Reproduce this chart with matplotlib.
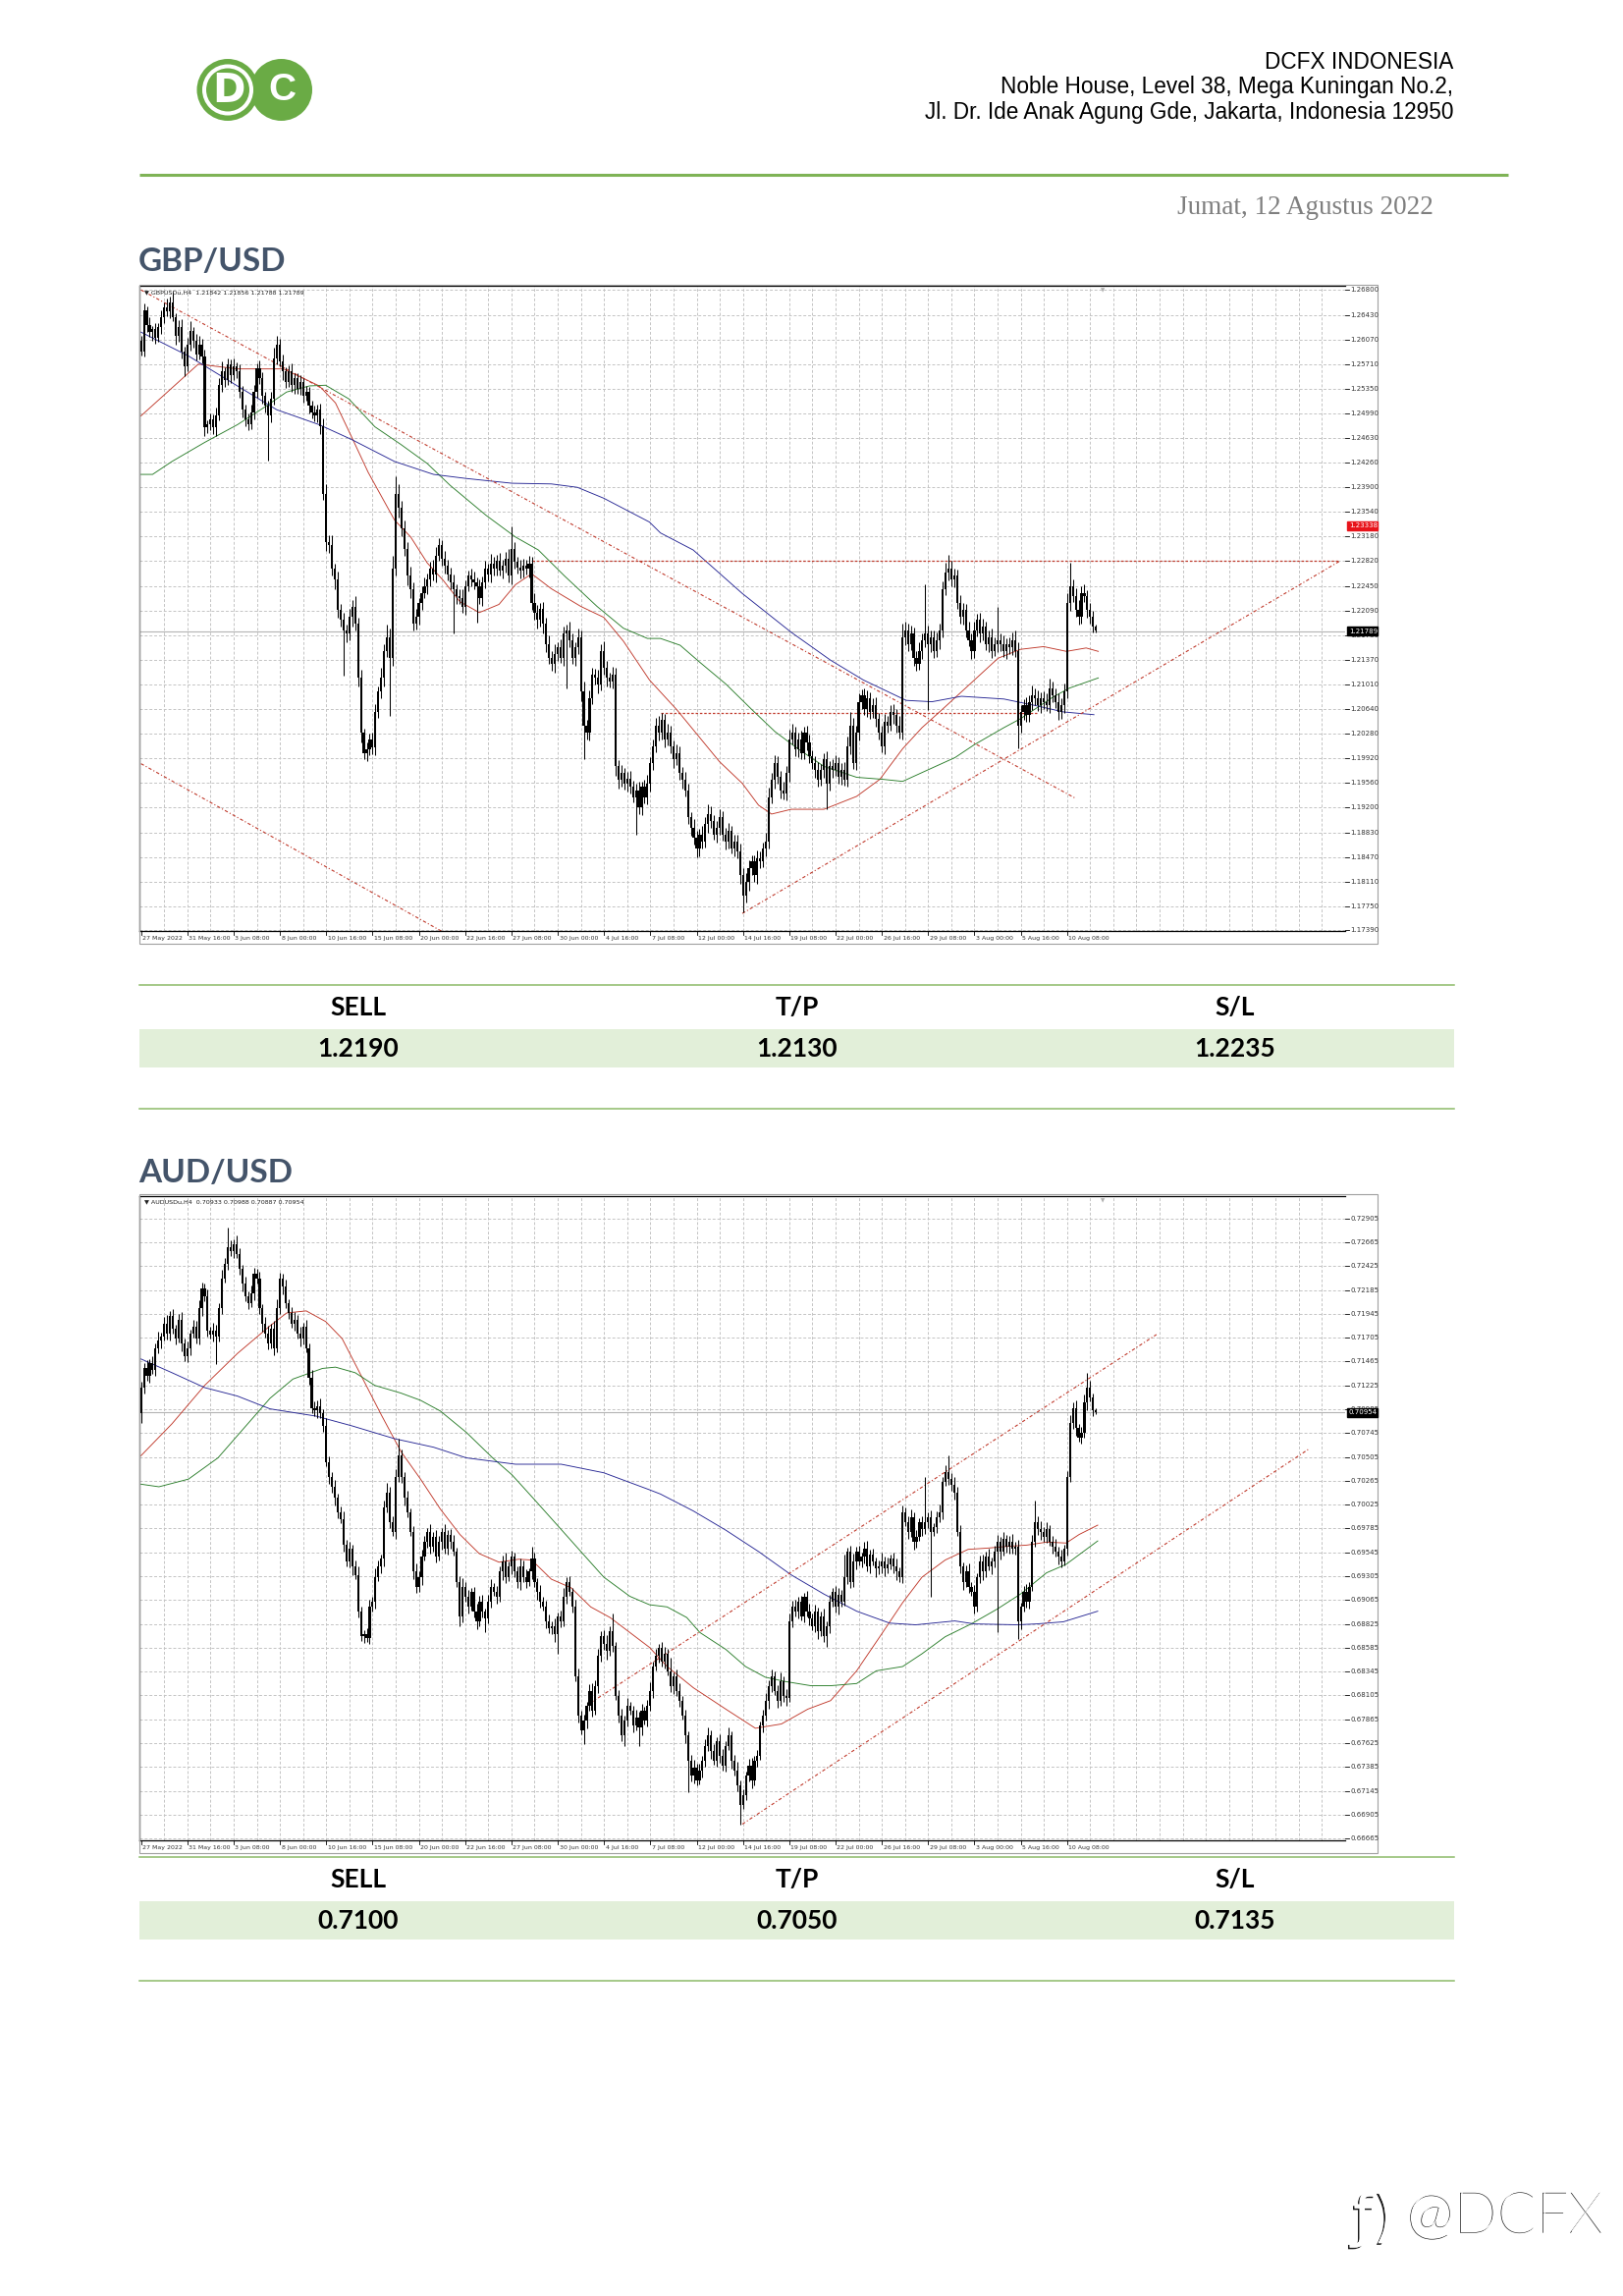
import matplotlib
matplotlib.use("Agg")
import matplotlib.pyplot as plt
import matplotlib.patheffects as pe
from matplotlib.patches import Circle, Rectangle
import numpy as np

W, H = 1653, 2338

# ---------------- data ----------------
date_labels = ["27 May 2022", "31 May 16:00", "3 Jun 08:00", "8 Jun 00:00", "10 Jun 16:00",
               "15 Jun 08:00", "20 Jun 00:00", "22 Jun 16:00", "27 Jun 08:00", "30 Jun 00:00",
               "4 Jul 16:00", "7 Jul 08:00", "12 Jul 00:00", "14 Jul 16:00", "19 Jul 08:00",
               "22 Jul 00:00", "26 Jul 16:00", "29 Jul 08:00", "3 Aug 00:00", "5 Aug 16:00",
               "10 Aug 08:00"]

gbp_ticks = [1.26800, 1.26430, 1.26070, 1.25710, 1.25350, 1.24990, 1.24630, 1.24260, 1.23900,
             1.23540, 1.23180, 1.22820, 1.22450, 1.22090, 1.21730, 1.21370, 1.21010, 1.20640,
             1.20280, 1.19920, 1.19560, 1.19200, 1.18830, 1.18470, 1.18110, 1.17750, 1.17390]
aud_ticks = [0.72905, 0.72665, 0.72425, 0.72185, 0.71945, 0.71705, 0.71465, 0.71225, 0.70985,
             0.70745, 0.70505, 0.70265, 0.70025, 0.69785, 0.69545, 0.69305, 0.69065, 0.68825,
             0.68585, 0.68345, 0.68105, 0.67865, 0.67625, 0.67385, 0.67145, 0.66905, 0.66665]

# GBPUSD H4 closes, one per bar (27 May -> 12 Aug)
gbp_open0 = 1.2605
gbp_close = [
    1.2590, 1.2650, 1.2628, 1.2618, 1.2622, 1.2610, 1.2625, 1.2640, 1.2655, 1.2648, 1.2662, 1.2640,
    1.2612, 1.2625, 1.2590, 1.2568, 1.2600, 1.2620, 1.2605, 1.2585, 1.2600, 1.2582,
    1.2478, 1.2482, 1.2490, 1.2478, 1.2495,
    1.2540, 1.2560, 1.2548, 1.2570, 1.2555, 1.2568, 1.2560,
    1.2530, 1.2505, 1.2490, 1.2482, 1.2500,
    1.2530, 1.2565, 1.2550, 1.2525, 1.2510, 1.2495, 1.2520,
    1.2580, 1.2600, 1.2575, 1.2560,
    1.2545, 1.2560, 1.2540, 1.2550, 1.2535, 1.2545, 1.2525, 1.2530, 1.2510, 1.2500, 1.2495, 1.2505,
    1.2480, 1.2380, 1.2310,
    1.2305, 1.2270, 1.2255, 1.2210, 1.2195, 1.2180, 1.2175, 1.2200,
    1.2215, 1.2190,
    1.2110, 1.2030, 1.2000, 1.2005, 1.2020, 1.2008,
    1.2060, 1.2090, 1.2110, 1.2150, 1.2170, 1.2140,
    1.2270, 1.2380,
    1.2360, 1.2330, 1.2300, 1.2260, 1.2240,
    1.2190, 1.2200,
    1.2220, 1.2235, 1.2245, 1.2255, 1.2270, 1.2262, 1.2290, 1.2305, 1.2285,
    1.2275, 1.2262, 1.2250, 1.2240, 1.2230, 1.2228, 1.2215,
    1.2245, 1.2260, 1.2255, 1.2250, 1.2245, 1.2228, 1.2250, 1.2270, 1.2262, 1.2278, 1.2270, 1.2282,
    1.2268, 1.2275, 1.2285, 1.2260, 1.2300,
    1.2280, 1.2272, 1.2268, 1.2275, 1.2270, 1.2278,
    1.2220,
    1.2205, 1.2195, 1.2212, 1.2190, 1.2160, 1.2140,
    1.2130, 1.2145, 1.2155, 1.2140, 1.2175, 1.2180, 1.2165, 1.2140, 1.2155, 1.2170,
    1.2090, 1.2040, 1.2030,
    1.2080, 1.2115, 1.2110, 1.2100, 1.2150, 1.2125, 1.2110, 1.2105, 1.2115,
    1.1980,
    1.1960, 1.1970, 1.1955, 1.1962, 1.1950, 1.1935, 1.1945, 1.1920,
    1.1950, 1.1935, 1.1955,
    1.1985, 1.2010, 1.2040, 1.2030, 1.2048, 1.2020,
    1.2030, 1.2010, 1.1990, 1.2000, 1.1970, 1.1960, 1.1945,
    1.1905, 1.1890, 1.1875, 1.1860, 1.1880, 1.1870, 1.1895,
    1.1910, 1.1900, 1.1880, 1.1890, 1.1905, 1.1880, 1.1870, 1.1885, 1.1860, 1.1870, 1.1855,
    1.1820, 1.1790, 1.1810,
    1.1830, 1.1840, 1.1820, 1.1845, 1.1840, 1.1860, 1.1870,
    1.1935, 1.1960, 1.1985,
    1.1965, 1.1945, 1.1940, 1.1970,
    1.2020, 1.2030, 1.2005, 1.2020, 1.2000, 1.2030, 1.2015, 1.1995,
    1.1985, 1.1975, 1.1960, 1.1975, 1.1990, 1.1955, 1.1980, 1.1975, 1.1985, 1.1965, 1.1975, 1.1960,
    1.2010, 1.2040, 1.1985, 1.2030,
    1.2075, 1.2085, 1.2065, 1.2080, 1.2060, 1.2070, 1.2050,
    1.2030, 1.2010, 1.2045, 1.2040, 1.2060, 1.2055, 1.2040, 1.2030,
    1.2170,
    1.2180, 1.2160, 1.2175, 1.2140, 1.2130, 1.2150, 1.2165,
    1.2175, 1.2160, 1.2170, 1.2150, 1.2165, 1.2180,
    1.2240, 1.2265, 1.2270, 1.2255, 1.2260,
    1.2220, 1.2200, 1.2210, 1.2180, 1.2165, 1.2150,
    1.2180, 1.2195, 1.2175, 1.2185, 1.2160, 1.2170, 1.2150, 1.2160,
    1.2165, 1.2160, 1.2150, 1.2160, 1.2155, 1.2165, 1.2150,
    1.2040,
    1.2060, 1.2070, 1.2055, 1.2075, 1.2085, 1.2080, 1.2070, 1.2080, 1.2075, 1.2070, 1.2095, 1.2085,
    1.2075, 1.2060, 1.2070, 1.2090,
    1.2220,
    1.2245, 1.2230, 1.2210, 1.2200, 1.2235, 1.2230, 1.2210, 1.2200, 1.2185, 1.2179,
]
# wick lengths beyond the body, in pips
gbp_wick_hi = [
    8, 10, 6, 12, 5, 9, 7, 10, 6, 12,   8, 15, 6, 10, 12, 7, 9, 14, 6, 10,
    12, 8, 10, 6, 9, 7, 12, 10, 15, 6,  10, 8, 12, 6, 10, 9, 6, 8, 12, 10,
    7, 12, 9, 6, 8, 10, 15, 12, 8, 10,  6, 9, 12, 7, 8, 10, 6, 9, 8, 7,
    10, 6, 8, 12, 15, 10, 14, 8, 12, 9, 10, 8, 12, 10, 15, 8, 12, 6, 10, 8,
    9, 12, 8, 15, 10, 18, 12, 20, 26, 14, 10, 12, 9, 14, 10, 12, 8, 10, 12, 9,
    10, 14, 12, 10, 8, 12, 9, 10, 12, 8, 10, 12, 9, 8, 10, 12, 8, 10, 9, 12,
    8, 14, 10, 9, 12, 8, 10, 15, 33, 10, 8, 12, 10, 9, 12, 10, 14, 12, 8, 10,
    9, 12, 10, 14, 8, 12, 10, 9, 12, 10, 8, 12, 10, 14, 9, 12, 10, 8, 12, 10,
    14, 10, 8, 12, 10, 9, 12, 8, 10, 12, 9, 10, 12, 8, 10, 12, 9, 10, 12, 14,
    10, 9, 12, 10, 8, 12, 10, 9, 12, 10, 8, 12, 10, 9, 12, 10, 14, 12, 8, 10,
    12, 9, 10, 12, 8, 10, 9, 12, 10, 14, 12, 10, 9, 12, 10, 8, 12, 14, 10, 12,
    10, 9, 12, 10, 14, 12, 8, 10, 12, 9, 10, 12, 8, 10, 12, 9, 10, 12, 8, 10,
    12, 9, 10, 12, 14, 20, 12, 10, 12, 8, 10, 12, 9, 10, 12, 8, 10, 12, 9, 10,
    12, 10, 14, 20, 12, 10, 12, 9, 10, 12, 10, 72, 12, 10, 9, 12, 10, 12, 14, 21,
    12, 10, 9, 12, 10, 8, 12, 10, 12, 9, 10, 12, 8, 10, 12, 9, 50, 10, 12, 8,
    10, 12, 14, 12, 10, 9, 12, 10, 14, 10, 12, 9, 10, 12, 14, 10, 9, 12, 10, 12,
    14, 34, 10, 12, 14, 10, 12, 9, 10, 8, 3,
]
gbp_wick_lo = [
    6, 8, 10, 7, 12, 9, 6, 10, 8, 7,    9, 6, 12, 8, 10, 14, 7, 9, 10, 8,
    7, 10, 12, 9, 8, 10, 12, 7, 9, 10,  8, 12, 7, 10, 9, 12, 10, 8, 7, 10,
    9, 8, 12, 10, 65, 9, 8, 10, 7, 12,  9, 8, 10, 12, 7, 9, 10, 8, 12, 9,
    8, 10, 12, 9, 14, 12, 10, 15, 12, 10, 66, 12, 10, 14, 10, 12, 15, 10, 12, 9,
    10, 12, 8, 10, 12, 9, 86, 12, 10, 14, 12, 10, 14, 12, 10, 9, 12, 10, 8, 12,
    10, 9, 12, 8, 10, 12, 9, 10, 64, 12, 9, 10, 12, 8, 10, 9, 54, 10, 12, 8,
    10, 12, 9, 10, 8, 12, 10, 9, 12, 10, 9, 12, 10, 8, 12, 10, 9, 12, 10, 14,
    12, 10, 9, 12, 10, 8, 12, 80, 10, 9, 12, 10, 14, 50, 10, 12, 9, 10, 12, 8,
    10, 12, 9, 10, 14, 12, 10, 9, 12, 10, 8, 56, 10, 12, 9, 10, 12, 10, 9, 12,
    10, 12, 9, 10, 12, 8, 10, 12, 9, 10, 12, 10, 14, 12, 10, 9, 12, 10, 8, 12,
    10, 9, 12, 10, 8, 12, 10, 12, 25, 10, 12, 10, 9, 12, 10, 8, 12, 10, 9, 12,
    10, 12, 9, 10, 12, 8, 10, 12, 9, 10, 12, 10, 9, 12, 10, 8, 12, 38, 10, 12,
    9, 10, 12, 8, 10, 12, 9, 10, 12, 10, 9, 12, 10, 8, 12, 10, 9, 12, 10, 8,
    12, 10, 9, 10, 12, 10, 9, 12, 10, 8, 12, 10, 97, 12, 10, 9, 12, 10, 8, 12,
    10, 12, 9, 10, 12, 10, 8, 12, 10, 9, 12, 10, 9, 12, 10, 8, 12, 10, 9, 12,
    10, 12, 9, 34, 10, 12, 9, 10, 12, 10, 9, 12, 10, 8, 12, 10, 9, 12, 10, 12,
    10, 12, 9, 10, 12, 10, 9, 12, 10, 8, 2,
]

# AUDUSD H4 closes, one per bar
aud_open0 = 0.7095
aud_close = [
    0.7120, 0.7140, 0.7132, 0.7145, 0.7138,
    0.7160, 0.7168, 0.7172,
    0.7185, 0.7175, 0.7192, 0.7180,
    0.7170, 0.7188, 0.7165, 0.7152, 0.7160, 0.7175, 0.7182, 0.7170,
    0.7200, 0.7220, 0.7212,
    0.7178, 0.7174, 0.7178, 0.7172,
    0.7200, 0.7230, 0.7245, 0.7262,
    0.7258, 0.7265, 0.7255,
    0.7240, 0.7225, 0.7212, 0.7205, 0.7215,
    0.7235, 0.7230,
    0.7200, 0.7185, 0.7175, 0.7165, 0.7180, 0.7160,
    0.7200, 0.7230, 0.7222,
    0.7205, 0.7195, 0.7185,
    0.7188, 0.7175, 0.7170, 0.7182, 0.7160, 0.7130,
    0.7100, 0.7098, 0.7102,
    0.7095, 0.7082,
    0.7045, 0.7030, 0.7020, 0.7010,
    0.6995, 0.6988,
    0.6962, 0.6945, 0.6958, 0.6940, 0.6932,
    0.6895, 0.6870, 0.6872, 0.6868,
    0.6900, 0.6905, 0.6930, 0.6940, 0.6948,
    0.7000, 0.7015, 0.6985, 0.6975,
    0.7030, 0.7052,
    0.7030, 0.7010, 0.6995, 0.6975,
    0.6935, 0.6920, 0.6930,
    0.6950, 0.6965, 0.6975, 0.6960, 0.6970, 0.6950, 0.6965, 0.6975, 0.6958, 0.6972, 0.6965, 0.6955,
    0.6925, 0.6890,
    0.6920, 0.6910, 0.6900, 0.6915, 0.6895, 0.6885, 0.6905, 0.6895, 0.6888,
    0.6905, 0.6920, 0.6915, 0.6910,
    0.6935, 0.6945, 0.6930, 0.6940, 0.6950, 0.6935, 0.6925, 0.6940, 0.6930, 0.6925, 0.6935, 0.6948,
    0.6925, 0.6915, 0.6905, 0.6900,
    0.6885, 0.6878, 0.6880, 0.6872, 0.6890, 0.6885,
    0.6910, 0.6925, 0.6915, 0.6900,
    0.6830, 0.6790, 0.6775, 0.6785,
    0.6800, 0.6815, 0.6795, 0.6820,
    0.6850, 0.6870, 0.6862, 0.6855, 0.6875, 0.6860,
    0.6810,
    0.6790, 0.6770, 0.6785, 0.6800, 0.6795, 0.6780, 0.6788, 0.6778, 0.6795, 0.6785, 0.6800, 0.6815,
    0.6840, 0.6850, 0.6858, 0.6845, 0.6852,
    0.6835, 0.6820, 0.6830, 0.6815, 0.6805, 0.6790, 0.6770,
    0.6745, 0.6730, 0.6738, 0.6725, 0.6735, 0.6745,
    0.6760, 0.6770, 0.6755, 0.6745, 0.6765, 0.6750, 0.6740, 0.6760, 0.6770, 0.6745, 0.6735,
    0.6720, 0.6700, 0.6710,
    0.6730, 0.6740, 0.6725, 0.6745, 0.6750,
    0.6780, 0.6790, 0.6805, 0.6820, 0.6830,
    0.6815, 0.6805, 0.6825, 0.6810, 0.6808,
    0.6885,
    0.6900, 0.6895, 0.6905, 0.6890, 0.6910, 0.6895, 0.6888,
    0.6880, 0.6895, 0.6875, 0.6890, 0.6870, 0.6880,
    0.6905, 0.6915, 0.6900, 0.6912, 0.6905,
    0.6930, 0.6955, 0.6925, 0.6945,
    0.6955, 0.6945, 0.6950, 0.6958, 0.6940, 0.6952, 0.6945, 0.6938,
    0.6940, 0.6945, 0.6938, 0.6942, 0.6948, 0.6940, 0.6935, 0.6930,
    0.6995,
    0.6985, 0.6975, 0.6990, 0.6965, 0.6970, 0.6985, 0.6978,
    0.6985, 0.6990, 0.6975, 0.6980, 0.6990, 0.6995,
    0.7025, 0.7035, 0.7028, 0.7022, 0.7015,
    0.6975, 0.6940, 0.6925, 0.6935, 0.6920, 0.6915,
    0.6900,
    0.6930, 0.6945, 0.6935, 0.6950, 0.6940, 0.6945, 0.6955,
    0.6965, 0.6955, 0.6968, 0.6960, 0.6965, 0.6958, 0.6960,
    0.6885,
    0.6900, 0.6915, 0.6905, 0.6920,
    0.6965, 0.6985, 0.6978,
    0.6975, 0.6970, 0.6978, 0.6965, 0.6960, 0.6955, 0.6950, 0.6945, 0.6958,
    0.7030,
    0.7085, 0.7100,
    0.7080, 0.7070, 0.7075,
    0.7105, 0.7120, 0.7110,
    0.7098, 0.70954,
]
aud_wick_hi = [
    6, 5, 8, 4, 7, 5, 9, 4, 6, 8,   5, 7, 4, 6, 8, 5, 7, 4, 6, 5,
    8, 6, 5, 7, 4, 8, 6, 5, 9, 6,   19, 7, 5, 8, 6, 4, 7, 5, 8, 6,
    5, 7, 4, 6, 8, 5, 7, 9, 6, 5,   7, 4, 6, 8, 5, 7, 4, 6, 5, 8,
    6, 5, 7, 4, 8, 6, 5, 7, 4, 6,   8, 5, 7, 4, 6, 8, 5, 4, 6, 7,
    5, 8, 6, 4, 7, 9, 5, 6, 8, 17,  6, 5, 7, 4, 6, 8, 5, 7, 6, 4,
    8, 5, 7, 6, 4, 8, 5, 6, 7, 4,   6, 9, 5, 7, 4, 5, 8, 6, 7, 3,
    7, 8, 4, 6, 5, 6, 9, 5, 6, 4,   5, 8, 6, 7, 3, 12, 6, 4, 7, 5,
    6, 7, 5, 8, 4, 6, 9, 5, 6, 4,   7, 8, 5, 6, 4, 7, 8, 6, 7, 5,
    6, 9, 5, 18, 4, 6, 7, 5, 8, 4,  5, 8, 6, 7, 4, 6, 9, 5, 7, 4,
    6, 7, 5, 14, 4, 7, 8, 5, 6, 4,  6, 8, 4, 7, 5, 6, 8, 5, 7, 3,
    6, 7, 5, 8, 4, 6, 9, 5, 6, 4,   7, 8, 5, 6, 4, 6, 8, 6, 7, 5,
    6, 9, 5, 7, 8, 6, 7, 5, 6, 4,   6, 8, 5, 7, 4, 5, 8, 5, 7, 4,
    6, 7, 5, 22, 4, 6, 8, 5, 6, 4,  7, 8, 5, 6, 4, 6, 9, 5, 7, 4,
    6, 8, 4, 7, 5, 6, 8, 5, 7, 4,   6, 45, 5, 7, 4, 6, 8, 5, 7, 17,
    6, 8, 5, 7, 4, 6, 8, 5, 7, 4,   6, 7, 5, 8, 4, 6, 7, 5, 7, 4,
    6, 8, 5, 7, 4, 6, 8, 5, 7, 22,  6, 8, 5, 7, 4, 6, 8, 5, 7, 4,
    6, 8, 5, 7, 4, 6, 8, 15, 7, 4,  2,
]
aud_wick_lo = [
    10, 6, 5, 7, 4, 6, 5, 8, 4, 6,  7, 5, 6, 4, 8, 5, 6, 7, 4, 5,
    6, 8, 5, 6, 4, 7, 28, 5, 6, 4,  6, 5, 7, 4, 6, 8, 5, 6, 4, 7,
    5, 6, 8, 4, 6, 5, 7, 4, 6, 8,   5, 6, 4, 7, 5, 8, 6, 4, 7, 5,
    6, 8, 5, 6, 4, 7, 5, 8, 6, 4,   7, 5, 6, 8, 4, 6, 5, 7, 4, 6,
    5, 7, 4, 6, 8, 5, 6, 4, 7, 5,   6, 8, 5, 4, 7, 6, 5, 8, 4, 6,
    7, 5, 6, 4, 8, 5, 6, 7, 4, 5,   10, 6, 5, 7, 4, 6, 8, 5, 6, 14,
    5, 6, 4, 7, 5, 8, 6, 4, 7, 5,   6, 8, 5, 6, 4, 7, 5, 8, 6, 4,
    7, 5, 6, 8, 20, 6, 5, 7, 4, 6,  5, 7, 4, 13, 8, 5, 6, 4, 7, 5,
    6, 8, 5, 6, 4, 7, 5, 10, 6, 4,  7, 5, 18, 8, 4, 6, 5, 7, 4, 6,
    5, 7, 4, 6, 8, 5, 6, 4, 7, 32,  6, 8, 5, 4, 7, 6, 5, 8, 4, 6,
    7, 5, 6, 4, 8, 5, 6, 19, 4, 5,  6, 8, 5, 6, 4, 7, 5, 8, 6, 4,
    7, 5, 6, 8, 4, 6, 5, 7, 4, 6,   5, 7, 4, 6, 8, 5, 6, 11, 7, 5,
    6, 8, 5, 4, 7, 6, 5, 8, 4, 6,   7, 5, 6, 4, 8, 5, 6, 7, 4, 5,
    6, 8, 5, 6, 4, 7, 5, 8, 6, 4,   7, 5, 6, 65, 4, 6, 5, 7, 4, 6,
    5, 7, 4, 6, 8, 5, 6, 4, 7, 5,   6, 8, 5, 4, 7, 6, 81, 8, 4, 6,
    7, 5, 6, 18, 8, 5, 6, 7, 4, 5,  6, 8, 5, 6, 4, 7, 5, 8, 6, 4,
    7, 5, 6, 8, 4, 6, 5, 7, 4, 6,   2,
]

# moving averages as (bar, price) points
gbp_ma_fast = [(0, 1.2495), (19.8, 1.2571), (33.3, 1.2564), (49.2, 1.2564), (61.6, 1.2539),
               (67.2, 1.2514), (72.9, 1.2463), (78.5, 1.2412), (87.6, 1.2342), (93.2, 1.2317),
               (98.9, 1.2279), (104.5, 1.2253), (110.2, 1.2222), (116.9, 1.2206), (123.7, 1.2218),
               (129.4, 1.2247), (135.0, 1.2263), (141.8, 1.2241), (152.0, 1.2215), (159.9, 1.2199),
               (166.7, 1.2164), (175.7, 1.2107), (185.2, 1.2063), (199.9, 1.1987), (207.8, 1.1955),
               (213.4, 1.1923), (217.9, 1.1910), (224.7, 1.1917), (236.0, 1.1917), (247.3, 1.1936),
               (255.3, 1.1961), (263.2, 1.2006), (269.9, 1.2037), (276.7, 1.2063), (288.0, 1.2107),
               (296.2, 1.2139), (303.9, 1.2152), (311.9, 1.2156), (319.8, 1.2149), (326.6, 1.2154),
               (330.8, 1.2149)]
gbp_ma_mid = [(0, 1.2409), (4.0, 1.2409), (10.7, 1.2428), (22.0, 1.2456), (33.3, 1.2482),
              (42.4, 1.2507), (50.3, 1.2530), (58.2, 1.2539), (63.8, 1.2540), (71.8, 1.2520),
              (80.8, 1.2479), (89.8, 1.2453), (98.9, 1.2425), (106.8, 1.2393), (119.2, 1.2349),
              (129.4, 1.2317), (137.3, 1.2298), (146.3, 1.2260), (157.6, 1.2215), (166.7, 1.2183),
              (175.0, 1.2168), (179.5, 1.2168), (186.3, 1.2158), (193.1, 1.2133), (202.1, 1.2101),
              (211.2, 1.2063), (219.1, 1.2031), (227.0, 1.2006), (236.0, 1.1980), (247.3, 1.1964),
              (256.4, 1.1961), (263.2, 1.1958), (269.9, 1.1971), (281.3, 1.1993), (288.0, 1.2012),
              (298.2, 1.2037), (303.9, 1.2050), (315.2, 1.2082), (320.8, 1.2095), (330.8, 1.2110)]
gbp_ma_slow = [(0, 1.2618), (16.4, 1.2583), (33.3, 1.2539), (46.9, 1.2504), (61.6, 1.2482),
               (72.9, 1.2460), (87.6, 1.2428), (101.1, 1.2409), (112.4, 1.2403), (128.2, 1.2396),
               (141.8, 1.2395), (150.8, 1.2390), (159.9, 1.2374), (175.7, 1.2339), (179.5, 1.2323),
               (190.8, 1.2298), (207.8, 1.2234), (224.7, 1.2177), (238.3, 1.2136), (249.6, 1.2107),
               (264.4, 1.2077), (273.3, 1.2075), (283.5, 1.2083), (298.2, 1.2079), (309.5, 1.2069),
               (318.8, 1.2060), (329.3, 1.2056)]

aud_ma_fast = [(0, 0.70518), (10.7, 0.70839), (22.0, 0.71225), (33.3, 0.71546), (44.6, 0.71825),
               (50.3, 0.71954), (57.1, 0.71975), (63.8, 0.71868), (69.5, 0.71696), (76.3, 0.71311),
               (83.1, 0.70925), (89.8, 0.70561), (96.6, 0.70282), (103.4, 0.69982), (110.2, 0.69725),
               (116.9, 0.69532), (123.7, 0.69446), (130.5, 0.69476), (135.0, 0.69468), (141.8, 0.69275),
               (148.6, 0.69189), (155.4, 0.68996), (162.1, 0.68889), (168.9, 0.68739), (175.7, 0.68589),
               (181.8, 0.68396), (190.9, 0.68182), (202.1, 0.67967), (212.3, 0.67775), (221.3, 0.67818),
               (230.4, 0.67967), (238.3, 0.68053), (247.3, 0.68353), (255.3, 0.68696), (263.2, 0.69039),
               (269.9, 0.69296), (277.9, 0.69468), (285.8, 0.69575), (292.6, 0.69588), (299.3, 0.69605),
               (306.1, 0.69618), (312.9, 0.69648), (319.7, 0.69639), (324.2, 0.69725), (330.6, 0.69819)]
aud_ma_mid = [(0, 0.70231), (6.2, 0.70205), (16.4, 0.70282), (26.6, 0.70496), (35.6, 0.70796),
              (44.6, 0.71096), (52.5, 0.71289), (62.7, 0.71396), (67.2, 0.71409), (74.0, 0.71353),
              (80.8, 0.71225), (89.8, 0.71148), (96.6, 0.71075), (103.4, 0.70968), (112.4, 0.70753),
              (121.5, 0.70496), (128.2, 0.70325), (136.2, 0.70068), (144.1, 0.69811), (152.0, 0.69553),
              (159.9, 0.69296), (168.9, 0.69103), (175.7, 0.69018), (181.8, 0.68996), (188.6, 0.68889),
              (193.1, 0.68739), (202.1, 0.68568), (208.9, 0.68396), (215.7, 0.68289), (222.5, 0.68246),
              (231.5, 0.68203), (238.3, 0.68203), (247.3, 0.68225), (254.1, 0.68353), (263.2, 0.68396),
              (269.9, 0.68525), (277.9, 0.68696), (286.9, 0.68825), (295.9, 0.68975), (303.9, 0.69125),
              (312.9, 0.69339), (319.7, 0.69425), (330.6, 0.69660)]
aud_ma_slow = [(0, 0.71491), (10.7, 0.71353), (22.0, 0.71203), (33.3, 0.71118), (44.6, 0.70989),
               (60.5, 0.70916), (72.9, 0.70818), (87.6, 0.70689), (101.1, 0.70603), (112.4, 0.70496),
               (129.4, 0.70432), (145.2, 0.70432), (159.9, 0.70346), (175.7, 0.70175), (179.5, 0.70132),
               (190.9, 0.69961), (202.1, 0.69768), (213.4, 0.69553), (224.7, 0.69318), (236.0, 0.69125),
               (247.3, 0.68953), (258.7, 0.68833), (267.7, 0.68816), (281.2, 0.68855), (288.0, 0.68825),
               (302.7, 0.68816), (309.5, 0.68825), (318.7, 0.68846), (330.6, 0.68953)]

# drawn trend lines (bar, price) -> (bar, price)
gbp_trend = [((0, 1.2680), (323, 1.1933)), ((0, 1.1984), (111, 1.1721)), ((207.8, 1.1764), (414, 1.2281))]
gbp_levels = [(1.2282, 135, 414), (1.2058, 179.5, 309.5)]
aud_trend = [((155.4, 0.68032), (350.9, 0.71737)), ((207.8, 0.6681), (403.3, 0.7058))]
aud_levels = []

signals = {"GBP/USD": ("1.2190", "1.2130", "1.2235"),
           "AUD/USD": ("0.7100", "0.7050", "0.7135")}

assert len(gbp_close) == len(gbp_wick_hi) == len(gbp_wick_lo) == 331
assert len(aud_close) == len(aud_wick_hi) == len(aud_wick_lo) == 331

# ---------------- page ----------------
fig = plt.figure(figsize=(W / 100, H / 100), dpi=100)
page = fig.add_axes([0, 0, 1, 1], zorder=5)
page.set_xlim(0, W)
page.set_ylim(H, 0)
page.axis("off")
page.patch.set_alpha(0)

GREEN = "#6aab45"
MA_RED, MA_GREEN, MA_BLUE = "#c0392b", "#2a7d2a", "#262694"
TL = "#c0392b"
XMIN, XMAX = -0.48, 416.1
PLOT_X0, PLOT_X1 = 142.2, 1370.0


def bar_x(b):
    return PLOT_X0 + (b - XMIN) / (XMAX - XMIN) * (PLOT_X1 - PLOT_X0)


def draw_chart(top, bottom, ylim, open0, close, whi, wlo, pip, ticks, mas, trends, levels,
               last_price, header, fmt, ask=None):
    ax = fig.add_axes([PLOT_X0 / W, 1 - bottom / H, (PLOT_X1 - PLOT_X0) / W, (bottom - top) / H])
    ax.set_xlim(XMIN, XMAX)
    ax.set_ylim(*ylim)
    ax.set_xticks([])
    ax.set_yticks([])
    for s in ["left", "top", "bottom"]:
        ax.spines[s].set_linewidth(0.9)
    ax.spines["right"].set_visible(False)

    def py(p):
        return top + (ylim[1] - p) / (ylim[1] - ylim[0]) * (bottom - top)

    for p in ticks:
        ax.axhline(p, color="#c4c4c4", lw=0.7, ls=(0, (3, 2)), zorder=0)
    for b in range(8, 417, 8):
        ax.axvline(b, color="#c4c4c4", lw=0.7, ls=(0, (3, 2)), zorder=0)
    ax.axhline(last_price, color="#b4b4b4", lw=0.8, zorder=1)

    close = np.array(close)
    opens = np.concatenate([[open0], close[:-1]])
    x = np.arange(len(close))
    hi_body = np.maximum(opens, close)
    lo_body = np.minimum(opens, close)
    ax.vlines(x, lo_body - np.array(wlo) * pip, hi_body + np.array(whi) * pip,
              color="black", lw=0.75, zorder=3)
    ax.bar(x, np.maximum(hi_body - lo_body, pip * 0.8), bottom=lo_body, width=0.72,
           color="black", lw=0, zorder=3)

    for pts, col in zip(mas, [MA_RED, MA_GREEN, MA_BLUE]):
        ax.plot([q[0] for q in pts], [q[1] for q in pts], color=col, lw=0.65, zorder=2)
    for (a, b) in trends:
        ax.plot([a[0], b[0]], [a[1], b[1]], color=TL, lw=0.8, ls=(0, (3, 2, 1, 2)), zorder=2,
                clip_on=True)
    for lvl, b0, b1 in levels:
        ax.plot([b0, b1], [lvl, lvl], color=TL, lw=0.9, ls=(0, (2, 1.5)), zorder=2)

    ax.text(0.004, 0.995, "\u25bc " + header, transform=ax.transAxes, fontsize=4.6,
            va="top", ha="left", color="#222222", family="DejaVu Sans")
    page.text(bar_x(332.3), top + 2, "\u25bc", fontsize=4, color="#b0b0b0", ha="center", va="top")

    # price scale
    for p in ticks:
        y = py(p)
        page.plot([PLOT_X1, PLOT_X1 + 3.5], [y, y], color="black", lw=0.6)
        page.text(PLOT_X1 + 5, y, fmt.format(p), fontsize=5.0, va="center", ha="left",
                  color="#333333", family="DejaVu Sans")
    y = py(last_price)
    page.add_patch(Rectangle((PLOT_X1 + 2, y - 4.5), 31, 9, color="black", zorder=6))
    page.text(PLOT_X1 + 4, y, fmt.format(last_price), fontsize=5.0, va="center", ha="left",
              color="white", family="DejaVu Sans", zorder=7)
    if ask is not None:
        y = py(ask)
        page.add_patch(Rectangle((PLOT_X1 + 2, y - 4.5), 31, 9, color="#e8141b", zorder=6))
        page.text(PLOT_X1 + 4, y, fmt.format(ask), fontsize=5.0, va="center", ha="left",
                  color="white", family="DejaVu Sans", zorder=7)

    # time scale
    for k, lab in enumerate(date_labels):
        xx = bar_x(16 * k)
        page.plot([xx, xx], [bottom, bottom + 4], color="black", lw=0.6)
        page.text(xx + 1.5, bottom + 7.5, lab, fontsize=4.5, va="center", ha="left",
                  color="#333333", family="DejaVu Sans")
    page.add_patch(Rectangle((142, top - 1.8), 1261, bottom - top + 14.5, fill=False,
                             ec="#a0a0a0", lw=0.8))
    return ax


def draw_table(y_top, y_head, y_band0, y_band1, y_bottom, vals):
    x0, x1 = 141.8, 1481
    cols = [x0 + (x1 - x0) * f for f in (1 / 6, 1 / 2, 5 / 6)]
    page.plot([x0, x1], [y_top, y_top], color="#8dbb68", lw=1.1)
    page.add_patch(Rectangle((x0, y_band0), x1 - x0, y_band1 - y_band0, color="#e2efd9", lw=0))
    page.plot([x0, x1], [y_bottom, y_bottom], color="#8dbb68", lw=1.1)
    for cx, h, v in zip(cols, ["SELL", "T/P", "S/L"], vals):
        page.text(cx, y_head, h, fontsize=19, fontweight="bold", family="Lato",
                  ha="center", va="center", color="black")
        page.text(cx, (y_band0 + y_band1) / 2, v, fontsize=19, fontweight="bold", family="Lato",
                  ha="center", va="center", color="black")


# header
page.add_patch(Circle((286.5, 91.5), 31.5, color=GREEN, lw=0))
page.add_patch(Circle((232, 91.5), 31.5, color=GREEN, lw=0))
page.add_patch(Circle((232, 91.5), 24, fill=False, ec="white", lw=2.9))
page.text(233, 92.5, "D", color="white", fontsize=29, fontweight="bold",
          family="Liberation Sans Narrow", ha="center", va="center")
page.text(287, 92.5, "C", color="white", fontsize=28, fontweight="bold",
          family="Liberation Sans", ha="center", va="center")

for yy, line in [(63, "DCFX INDONESIA"), (89, "Noble House, Level 38, Mega Kuningan No.2,"),
                 (115, "Jl. Dr. Ide Anak Agung Gde, Jakarta, Indonesia 12950")]:
    page.text(1480, yy, line, fontsize=16.3, family="Liberation Sans", ha="right", va="center",
              color="black")
page.plot([142, 1536], [178, 178], color="#7fb356", lw=2.2, solid_capstyle="butt")
page.text(1460, 212, "Jumat, 12 Agustus 2022", fontsize=19.5, family="Liberation Serif",
          ha="right", va="center", color="#7f7f7f")

# GBP/USD
page.text(141, 266, "GBP/USD", fontsize=24, fontweight="bold", family="Lato", ha="left",
          va="center", color="#44546a")
draw_chart(291.5, 948.3, (1.17378, 1.26854), gbp_open0, gbp_close, gbp_wick_hi, gbp_wick_lo,
           0.0001, gbp_ticks, [gbp_ma_fast, gbp_ma_mid, gbp_ma_slow], gbp_trend, gbp_levels,
           1.21789, "GBPUSDu,H4  1.21842 1.21856 1.21788 1.21789", "{:.5f}", ask=1.23338)
draw_table(1003, 1025.6, 1048, 1087, 1128.6, signals["GBP/USD"])

# AUD/USD
page.text(141, 1194, "AUD/USD", fontsize=24, fontweight="bold", family="Lato", ha="left",
          va="center", color="#44546a")
draw_chart(1218, 1874, (0.66647, 0.73130), aud_open0, aud_close, aud_wick_hi, aud_wick_lo,
           0.0001, aud_ticks, [aud_ma_fast, aud_ma_mid, aud_ma_slow], aud_trend, aud_levels,
           0.70954, "AUDUSDu,H4  0.70933 0.70988 0.70887 0.70954", "{:.5f}")
draw_table(1891, 1914, 1936, 1975, 2017, signals["AUD/USD"])

# watermark
shadow = [pe.withSimplePatchShadow(offset=(-1.2, -1.2), shadow_rgbFace="black", alpha=0.9),
          pe.Normal()]
page.text(1434, 2256, "@DCFX", fontsize=42, family="Lato", fontweight="light", color="white",
          ha="left", va="center", path_effects=shadow)
page.text(1400, 2260, "\u0192)", fontsize=42, family="DejaVu Sans", color="white",
          ha="center", va="center", path_effects=shadow)

fig.savefig("out.png", dpi=100, facecolor="white")
